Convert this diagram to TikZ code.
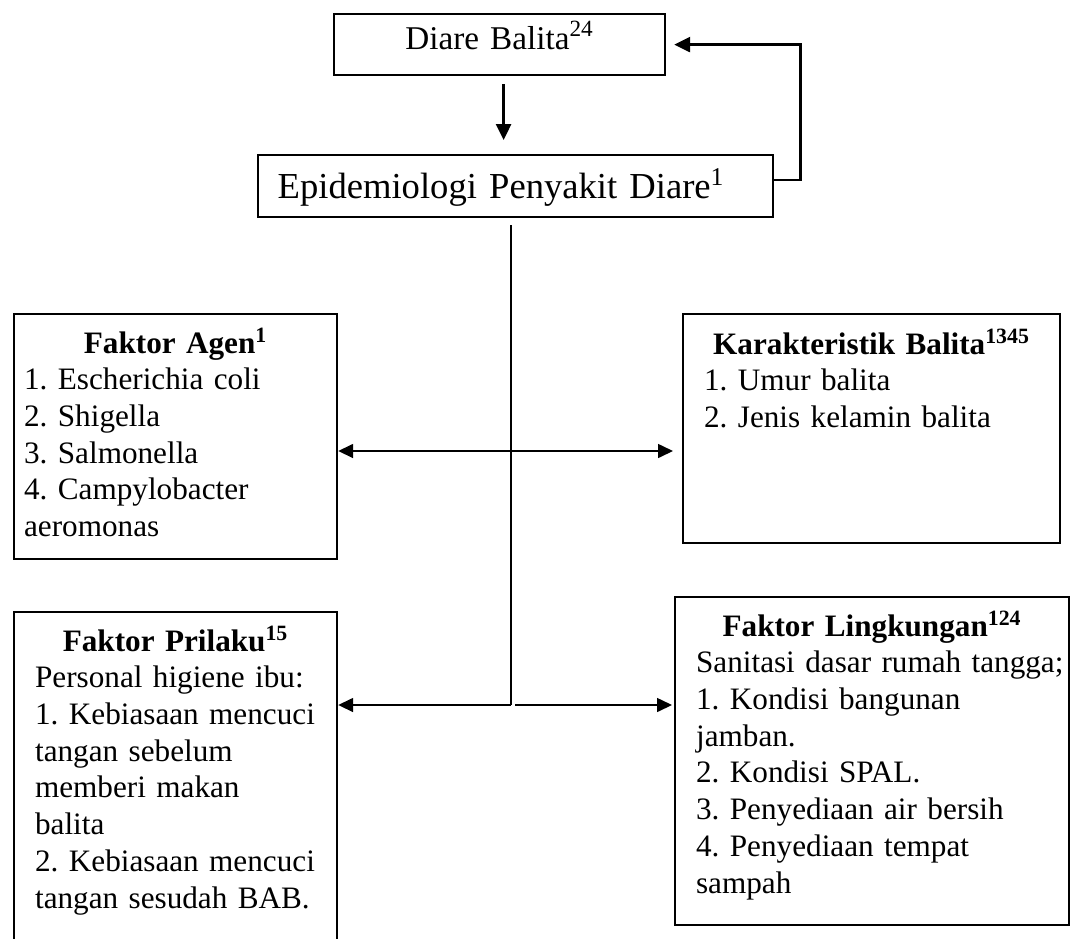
\documentclass[tikz,border=0pt]{standalone}
\usepackage{fontspec}
\setmainfont{Liberation Serif}
\usepackage{tikz}
\usetikzlibrary{arrows.meta,positioning}
\tikzset{
  kotak/.style={rectangle, draw=black, line width=1.1pt, anchor=north west,
    inner xsep=5pt, inner ysep=0pt, align=left, font=\fontsize{15.6}{18.35}\selectfont},
  seta/.style={-{Triangle[length=7.5pt,width=7pt]}, line width=0.8pt},
  setatebal/.style={-{Triangle[length=8pt,width=7.5pt]}, line width=1.3pt},
  garis/.style={line width=0.8pt}
}
\newcommand{\spasi}{\hspace*{5.5pt}}
\frenchspacing

\begin{document}
\begin{tikzpicture}[x=0.5pt, y=0.5pt]
\useasboundingbox (0,0) rectangle (1076,-938);
\clip (0,0) rectangle (1076,-938);
\node[kotak, align=center, text width=155.5pt, font=\fontsize{16.6}{20}\selectfont] (diare) at (333,-13)
  {\rule{0pt}{17.5pt}Diare Balita\textsuperscript{24}\rule[-13pt]{0pt}{13pt}};
\node[kotak, align=center, text width=247.5pt, font=\fontsize{18.3}{21.6}\selectfont] (epid) at (257,-154)
  {\rule{0pt}{21.5pt}Epidemiologi Penyakit Diare\textsuperscript{1}\hspace*{14.5pt}\rule[-9.5pt]{0pt}{9.5pt}};
\node[kotak, text width=151.5pt] (agen) at (13,-313)
  {\rule{0pt}{19.5pt}\makebox[\hsize]{\textbf{Faktor Agen\textsuperscript{1}}}\\
   1. Escherichia coli\\
   2. Shigella\\
   3. Salmonella\\
   4. Campylobacter\\
   aeromonas\rule[-11.25pt]{0pt}{11.25pt}};
\node[kotak, text width=178.5pt] (karakter) at (682,-313)
  {\rule{0pt}{20pt}\makebox[\hsize]{\textbf{Karakteristik Balita\textsuperscript{1345}}}\\
   \spasi 1. Umur balita\\
   \spasi 2. Jenis kelamin balita\rule[-57.8pt]{0pt}{57.8pt}};
\node[kotak, text width=151.5pt] (prilaku) at (13,-611)
  {\rule{0pt}{19.5pt}\makebox[\hsize]{\textbf{Faktor Prilaku\textsuperscript{15}}}\\
   \spasi Personal higiene ibu:\\
   \spasi 1. Kebiasaan mencuci\\
   \spasi tangan sebelum\\
   \spasi memberi makan\\
   \spasi balita\\
   \spasi 2. Kebiasaan mencuci\\
   \spasi tangan sesudah BAB.\rule[-30pt]{0pt}{30pt}};
\node[kotak, text width=187pt] (lingkungan) at (674,-596)
  {\rule{0pt}{19.5pt}\makebox[\hsize]{\textbf{Faktor Lingkungan\textsuperscript{124}}}\\
   \mbox{\spasi Sanitasi dasar rumah tangga;}\\
   \spasi 1. Kondisi bangunan\\
   \spasi jamban.\\
   \spasi 2. Kondisi SPAL.\\
   \spasi 3. Penyediaan air bersih\\
   \spasi 4. Penyediaan tempat\\
   \spasi sampah\rule[-16pt]{0pt}{16pt}};
\coordinate (simpul1) at (511,-451);
\coordinate (simpul2) at (511,-705);
\draw[setatebal, shorten <=4pt, shorten >=7pt] ([xshift=2pt]diare.south) -- ([xshift=2pt]diare.south |- epid.north);
\draw[setatebal, shorten >=4pt] ([yshift=3pt]epid.east) -- ++(26,0) |- (diare.east);
\draw[garis, shorten <=3.5pt] (epid.south -| simpul1) -- (simpul2);
\draw[seta] (simpul1) -- (agen.east |- simpul1);
\draw[seta, shorten >=4.5pt] (simpul1) -- (karakter.west |- simpul1);
\draw[seta] (simpul2) -- (prilaku.east |- simpul2);
\draw[seta, shorten >=1pt] ([xshift=2pt]simpul2) -- (lingkungan.west |- simpul2);
\end{tikzpicture}
\end{document}
